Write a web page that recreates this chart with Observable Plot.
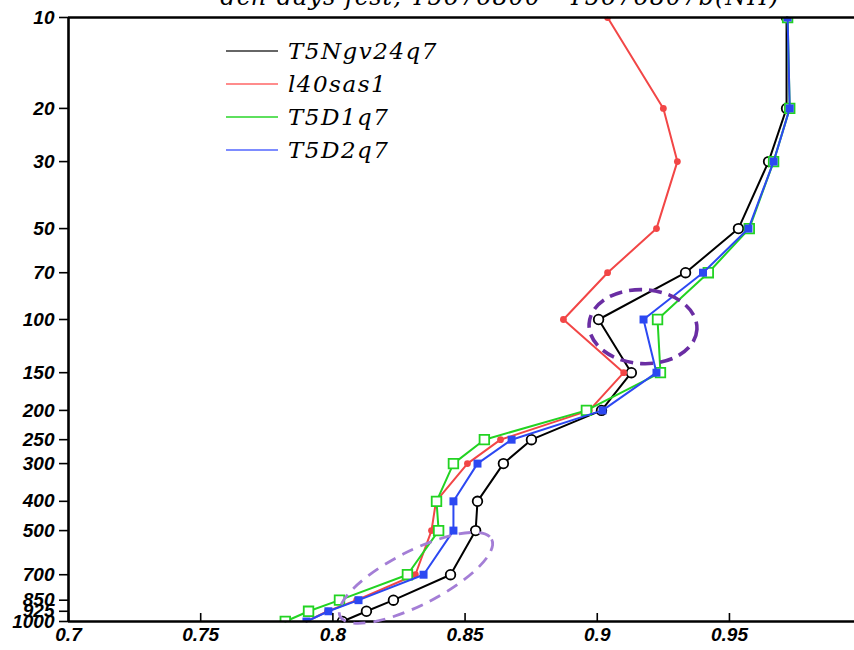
<!DOCTYPE html>
<html>
<head>
<meta charset="utf-8">
<script src="https://cdn.jsdelivr.net/npm/d3@7"></script>
<script src="https://cdn.jsdelivr.net/npm/@observablehq/plot@0.6"></script>
<style>
  html, body { margin: 0; padding: 0; background: #fff; overflow: hidden; }
  #wrap { position: relative; width: 854px; height: 650px; overflow: hidden; }
  #title { position: absolute; left: 0; width: 1000px; top: -17px; text-align: center;
    font: italic 24px "DejaVu Serif", serif; letter-spacing: 1px; color: #000; white-space: nowrap; }
  #legend { position: absolute; left: 226px; top: 34px; font: italic 23px "DejaVu Serif", serif; letter-spacing: 1.5px; }
  .row { display: flex; align-items: center; height: 33px; }
  .sw { width: 52px; height: 2px; margin-right: 10px; }
  svg { display: block; }
</style>
</head>
<body>
<div id="wrap">
  <div id="plot"></div>
  <div id="title">dch-days fcst, T5676800 - T5676807b(NH)</div>
  <div id="legend"></div>
</div>
<script>
// ---- data ----
const levels = [10, 20, 30, 50, 70, 100, 150, 200, 250, 300, 400, 500, 700, 850, 925, 1000];
const seriesNames = ["T5Ngv24q7", "l40sas1", "T5D1q7", "T5D2q7"];
const T5Ngv24q7 = [0.9716, 0.9716, 0.9648, 0.9534, 0.9334, 0.9005, 0.9129, 0.9016, 0.8751, 0.8645, 0.8547, 0.8540, 0.8445, 0.8229, 0.8127, 0.8036];
const l40sas1   = [0.9039, 0.9250, 0.9303, 0.9224, 0.9039, 0.8872, 0.9100, 0.8970, 0.8634, 0.8509, 0.8390, 0.8373, 0.8312, 0.8090, 0.7980, 0.7900];
const T5D1q7    = [0.9720, 0.9728, 0.9667, 0.9575, 0.9420, 0.9228, 0.9239, 0.8959, 0.8573, 0.8456, 0.8392, 0.8400, 0.8282, 0.8025, 0.7908, 0.7820];
const T5D2q7    = [0.9720, 0.9728, 0.9667, 0.9572, 0.9400, 0.9175, 0.9224, 0.9020, 0.8676, 0.8547, 0.8456, 0.8456, 0.8343, 0.8097, 0.7983, 0.7900];
const xTicks = [0.7, 0.75, 0.8, 0.85, 0.9, 0.95];
const yTicks = levels;
const yTickLabels = yTicks.map(String);
// annotation ellipses (centres in data units)
const ellipseX = [0.9175, 0.8316];
const ellipseLevel = [106, 720];

// ---- styles ----
const colors = ["#000000", "#f24646", "#22d322", "#2c48f2"];
const legendColors = ["#666666", "#ff8c8c", "#5ee05e", "#7d8cff"];
const values = [T5Ngv24q7, l40sas1, T5D1q7, T5D2q7];
const dotStyles = [
  {symbol: "circle", r: 4.8, fill: "#fff", stroke: "#000", strokeWidth: 1.8},
  {symbol: "circle", r: 3.4, fill: "#f24646", stroke: "none"},
  {symbol: "square", r: 5.4, fill: "#fff", stroke: "#22d322", strokeWidth: 1.8},
  {symbol: "square", r: 4.5, fill: "#2c48f2", stroke: "none"}
];
const ellipseStyles = [
  {rx: 54, ry: 37, rot: 3, color: "#6a2da3", width: 3.6, dash: "13 7"},
  {rx: 85, ry: 27, rot: -27, color: "#a47ed6", width: 2.8, dash: "12 8"}
];
const tickFont = {fontSize: 19, fontWeight: "bold", fontStyle: "italic", fontFamily: "Liberation Sans, Arial, sans-serif", fill: "#000"};

const rows = seriesNames.map((name, i) => levels.map((lev, j) => ({name, level: lev, value: values[i][j]})));

const marks = [];
rows.forEach((r, i) => {
  marks.push(Plot.line(r, {x: "value", y: "level", stroke: colors[i], strokeWidth: 2}));
  marks.push(Plot.dot(r, {x: "value", y: "level", clip: true, ...dotStyles[i]}));
});

const plot = Plot.plot({
  width: 854,
  height: 650,
  marginLeft: 68,
  marginRight: 0,
  marginTop: 17,
  marginBottom: 29,
  style: {background: "#fff", overflow: "visible"},
  x: {domain: [0.7, 0.9973]},
  y: {type: "log", domain: [10, 1000], reverse: true},
  marks: [
    ...marks,
    Plot.ruleX(xTicks, {stroke: "#000", strokeWidth: 1.6, insetTop: 596}),
    Plot.axisX({ticks: xTicks, tickSize: 0, tickPadding: 6, tickFormat: d => String(d), ...tickFont, label: null}),
    Plot.axisY({ticks: yTicks, tickSize: 9, tickFormat: () => "", strokeWidth: 1.6, label: null}),
    Plot.text(yTicks, {y: d => d, text: (d, i) => yTickLabels[i], frameAnchor: "left", dx: -14, textAnchor: "end", ...tickFont}),
    Plot.ruleX([0.7], {stroke: "#000", strokeWidth: 2.6}),
    Plot.ruleY([10, 1000], {stroke: "#000", strokeWidth: 2.6})
  ]
});
document.getElementById("plot").appendChild(plot);

// ellipses placed through the plot's scales
const sx = plot.scale("x"), sy = plot.scale("y");
const svg = d3.select(plot);
ellipseX.forEach((xv, i) => {
  const st = ellipseStyles[i];
  const cx = sx.apply(xv), cy = sy.apply(ellipseLevel[i]);
  svg.append("ellipse")
    .attr("cx", 0).attr("cy", 0).attr("rx", st.rx).attr("ry", st.ry)
    .attr("transform", `translate(${cx},${cy}) rotate(${st.rot})`)
    .attr("fill", "none").attr("stroke", st.color).attr("stroke-width", st.width)
    .attr("stroke-dasharray", st.dash);
});

// legend
const leg = document.getElementById("legend");
seriesNames.forEach((n, i) => {
  const row = document.createElement("div");
  row.className = "row";
  const sw = document.createElement("span");
  sw.className = "sw";
  sw.style.background = legendColors[i];
  const t = document.createElement("span");
  t.textContent = n;
  row.appendChild(sw); row.appendChild(t);
  leg.appendChild(row);
});
</script>
</body>
</html>
